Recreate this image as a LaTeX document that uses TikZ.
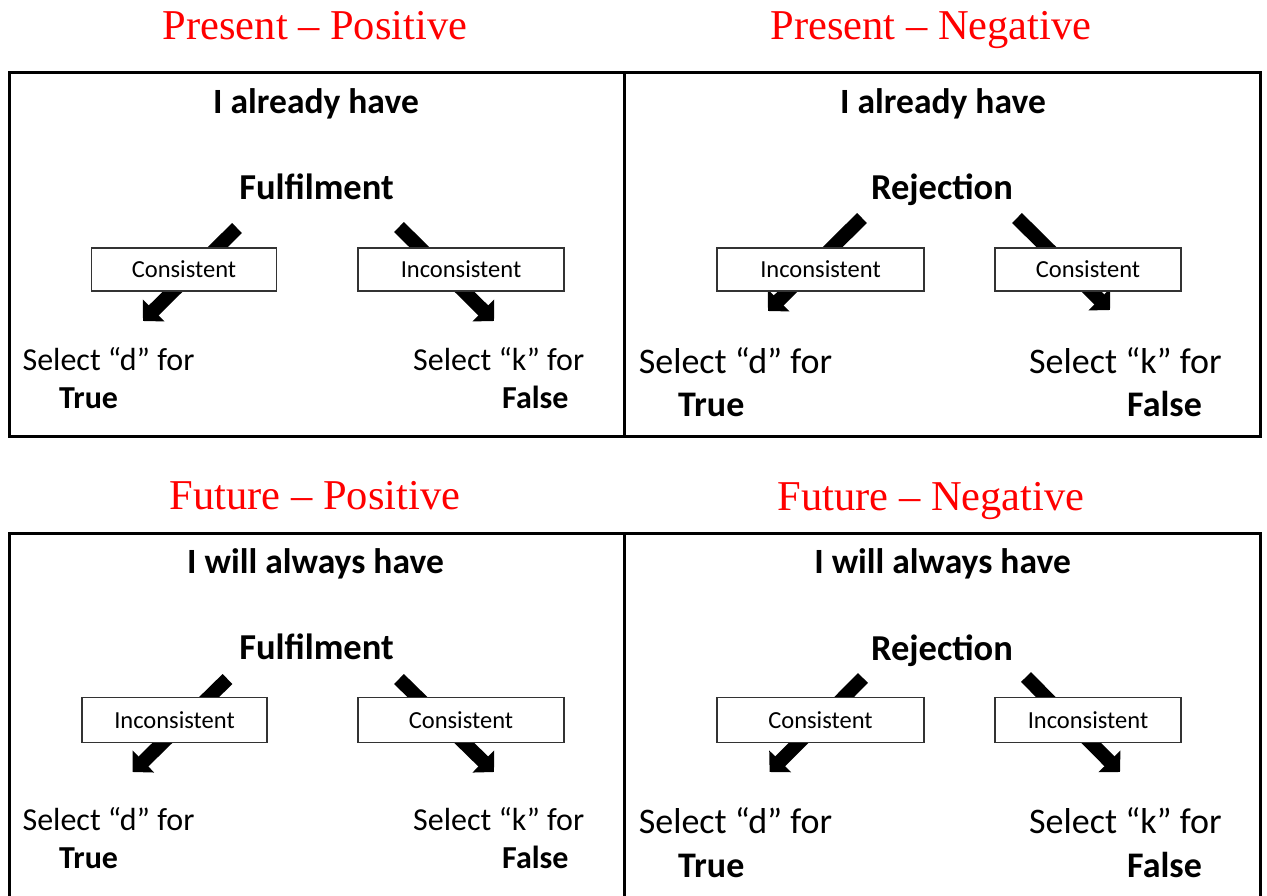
\documentclass[tikz,border=0pt]{standalone}
\usepackage{fontspec}
\setmainfont{Carlito}
\newfontfamily\titlefont{Liberation Serif}
\usetikzlibrary{arrows.meta}
\definecolor{titlered}{RGB}{255,0,0}
\tikzset{
  frame/.style={line width=3pt, black},
  bigarrow/.style={line width=14pt, -{Triangle[width=30pt,length=15pt]}},
  choice/.style={draw=black!80, line width=1.3pt, fill=white, inner sep=0pt, font=\fontsize{24.5}{29}\selectfont},
  ttl/.style={anchor=base, inner sep=0pt, text=titlered, font=\titlefont\fontsize{42.5}{50}\selectfont},
  headtxt/.style={anchor=base, inner sep=0pt, font=\bfseries\fontsize{35.5}{42}\selectfont},
  midtxt/.style={anchor=base, inner sep=0pt, font=\bfseries\fontsize{36.5}{44}\selectfont},
  seltxtA/.style={anchor=base west, inner sep=0pt, font=\fontsize{32}{38}\selectfont},
  boldtxtA/.style={anchor=base west, inner sep=0pt, font=\bfseries\fontsize{32}{38}\selectfont},
  seltxtB/.style={anchor=base west, inner sep=0pt, font=\fontsize{36}{43}\selectfont},
  boldtxtB/.style={anchor=base west, inner sep=0pt, font=\bfseries\fontsize{36}{43}\selectfont},
}
\begin{document}
\begin{tikzpicture}[x=1pt,y=-1pt]
\useasboundingbox (0,0) rectangle (1267,895);

% titles
\node[ttl] (t1) at (315,39) {Present – Positive};
\node[ttl] (t2) at (931,39) {Present – Negative};
\node[ttl] (t3) at (315,509) {Future – Positive};
\node[ttl] (t4) at (931,510) {Future – Negative};

% frames
\draw[frame] (9.5,72) rectangle (1260.5,436);
\draw[frame] (624.5,72) -- (624.5,436);
\draw[frame] (9.5,900) -- (9.5,533) -- (1260.5,533) -- (1260.5,900);
\draw[frame] (624.5,533) -- (624.5,900);

% arrow end points
\coordinate (a1s) at (237,228);   \coordinate (a1e) at (143,321);
\coordinate (a2s) at (399,227);   \coordinate (a2e) at (494,321);
\coordinate (a3s) at (862,218);   \coordinate (a3e) at (768,311);
\coordinate (a4s) at (1017,218);  \coordinate (a4e) at (1110,310);
\coordinate (a5s) at (227.5,679); \coordinate (a5e) at (132.7,772);
\coordinate (a6s) at (399,679);   \coordinate (a6e) at (494,772);
\coordinate (a7s) at (863,678);   \coordinate (a7e) at (769.6,772);
\coordinate (a8s) at (1026,677);  \coordinate (a8e) at (1120,772);
\foreach \i in {1,...,8} { \draw[bigarrow] (a\i s) -- (a\i e); }

% boxes
\node[choice, minimum width=185pt, minimum height=43pt] (b1) at (184,269.5) {Consistent};
\node[choice, minimum width=206pt, minimum height=43pt] (b2) at (461,269.5) {Inconsistent};
\node[choice, minimum width=207pt, minimum height=43pt] (b3) at (820.5,269.5) {Inconsistent};
\node[choice, minimum width=186pt, minimum height=43pt] (b4) at (1088,269.5) {Consistent};
\node[choice, minimum width=185pt, minimum height=45pt] (b5) at (174.5,719.8) {Inconsistent};
\node[choice, minimum width=206pt, minimum height=45pt] (b6) at (461,719.8) {Consistent};
\node[choice, minimum width=207pt, minimum height=45pt] (b7) at (820.5,720.2) {Consistent};
\node[choice, minimum width=186pt, minimum height=45pt] (b8) at (1088,720.2) {Inconsistent};

% top-left panel
\node[headtxt] (h1) at (316,113) {I already have};
\node[midtxt] (m1) at (316.5,199) {Fulfilment};
\node[seltxtA] (s1) at (22.4,370) {Select “d” for};
\node[boldtxtA] (r1) at (59,408) {True};
\node[seltxtA] (s2) at (413,370) {Select “k” for};
\node[boldtxtA] (r2) at (502,408) {False};

% top-right panel
\node[headtxt] (h2) at (943,113) {I already have};
\node[midtxt] (m2) at (942,199) {Rejection};
\node[seltxtB] (s3) at (638.6,373) {Select “d” for};
\node[boldtxtB] (r3) at (678,416) {True};
\node[seltxtB] (s4) at (1029,373) {Select “k” for};
\node[boldtxtB] (r4) at (1127,416) {False};

% bottom-left panel
\node[headtxt] (h3) at (315.5,573) {I will always have};
\node[midtxt] (m3) at (316.5,659) {Fulfilment};
\node[seltxtA] (s5) at (22.4,830) {Select “d” for};
\node[boldtxtA] (r5) at (59,868) {True};
\node[seltxtA] (s6) at (413,830) {Select “k” for};
\node[boldtxtA] (r6) at (502,868) {False};

% bottom-right panel
\node[headtxt] (h4) at (942.5,573) {I will always have};
\node[midtxt] (m4) at (942,660) {Rejection};
\node[seltxtB] (s7) at (638.6,833) {Select “d” for};
\node[boldtxtB] (r7) at (678,877) {True};
\node[seltxtB] (s8) at (1029,833) {Select “k” for};
\node[boldtxtB] (r8) at (1127,877) {False};
\end{tikzpicture}
\end{document}
